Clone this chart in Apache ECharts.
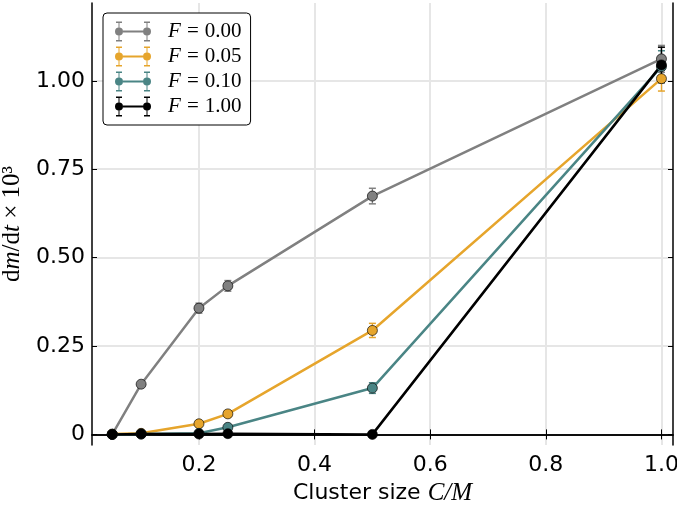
<!DOCTYPE html>
<html><head><meta charset="utf-8">
<script src="https://cdn.jsdelivr.net/npm/echarts@6/dist/echarts.min.js"></script>
<style>html,body{margin:0;padding:0;background:#fff}#c{width:677px;height:506px}</style>
</head><body><div id="c"></div>
<script>
// ---- data ----
const clusterSize = [0.05, 0.1, 0.2, 0.25, 0.5, 1.0];
const seriesNames = ['F=0.00', 'F=0.05', 'F=0.10', 'F=1.00'];
const rateF000 = [0.000, 0.142, 0.357, 0.420, 0.674, 1.062];
const errF000  = [0.002, 0.005, 0.014, 0.015, 0.022, 0.038];
const rateF005 = [0.001, 0.003, 0.030, 0.058, 0.294, 1.006];
const errF005  = [0.000, 0.001, 0.003, 0.004, 0.020, 0.035];
const rateF010 = [0.000, 0.001, 0.003, 0.020, 0.131, 1.040];
const errF010  = [0.000, 0.000, 0.001, 0.002, 0.015, 0.045];
const rateF100 = [0.000, 0.001, 0.001, 0.002, 0.000, 1.045];
const errF100  = [0.000, 0.000, 0.000, 0.000, 0.000, 0.050];
const xTicks = [0.2, 0.4, 0.6, 0.8, 1.0];
const yTicks = [0, 0.25, 0.5, 0.75, 1.0];

// ---- style ----
const colors = ['#808080', '#e6a52c', '#4a8585', '#000000'];
const allRates = [rateF000, rateF005, rateF010, rateF100];
const allErrs = [errF000, errF005, errF010, errF100];

const legendIcon = 'path://' +
  'M8 9H28V11H8Z' +
  'M3.5 1.5H4.5V6H3.5Z M3.5 14H4.5V18.5H3.5Z' +
  'M31.5 1.5H32.5V6H31.5Z M31.5 14H32.5V18.5H31.5Z' +
  'M1 0H7V1.5H1Z M1 18.5H7V20H1Z M29 0H35V1.5H29Z M29 18.5H35V20H29Z' +
  'M0 10A4 4 0 1 1 8 10A4 4 0 1 1 0 10Z' +
  'M28 10A4 4 0 1 1 36 10A4 4 0 1 1 28 10Z';

const series = [];
seriesNames.forEach((name, k) => {
  const col = colors[k];
  series.push({
    type: 'custom',
    name: name + ' err',
    xAxisIndex: 0, yAxisIndex: 0,
    silent: true,
    clip: true,
    data: clusterSize.map((x, i) => [x, allRates[k][i] - allErrs[k][i], allRates[k][i] + allErrs[k][i]]),
    encode: { x: 0, y: [1, 2] },
    renderItem: (params, api) => {
      const x = api.value(0), lo = api.value(1), hi = api.value(2);
      if (hi - lo < 0.004) return null;
      const p1 = api.coord([x, lo]), p2 = api.coord([x, hi]);
      const hw = 3.5;
      return { type: 'group', children: [
        { type: 'line', shape: { x1: p1[0], y1: p1[1], x2: p2[0], y2: p2[1] }, style: { stroke: col, lineWidth: 1.3 } },
        { type: 'line', shape: { x1: p1[0] - hw, y1: p1[1], x2: p1[0] + hw, y2: p1[1] }, style: { stroke: col, lineWidth: 1.5 } },
        { type: 'line', shape: { x1: p2[0] - hw, y1: p2[1], x2: p2[0] + hw, y2: p2[1] }, style: { stroke: col, lineWidth: 1.5 } }
      ]};
    }
  });
  series.push({
    type: 'line',
    name: name,
    xAxisIndex: 0, yAxisIndex: 0,
    data: clusterSize.map((x, i) => [x, allRates[k][i]]),
    symbol: 'circle',
    symbolSize: 10,
    showAllSymbol: true,
    lineStyle: { color: col, width: 2.5 },
    itemStyle: { color: col, borderColor: 'rgba(0,0,0,0.65)', borderWidth: 1 },
    emphasis: { disabled: true },
    silent: true
  });
});

const tickFont = { fontFamily: 'DejaVu Sans', fontSize: 22, color: '#000' };
const spine = { show: true, lineStyle: { color: '#000', width: 1.5 } };
const gridLine = { show: true, lineStyle: { color: '#e6e6e6', width: 2 } };
const xTick = { show: true, inside: true, length: 5, customValues: xTicks, lineStyle: { color: '#000', width: 1 } };
const yTick = { show: true, inside: true, length: 5, customValues: yTicks, lineStyle: { color: '#000', width: 1 } };

const option = {
  animation: false,
  backgroundColor: '#fff',
  grid: { left: 92, right: 4, top: 3, bottom: 61, containLabel: false, outerBoundsMode: 'none' },
  xAxis: [{
    type: 'value', min: 0.015, max: 1.02, position: 'bottom',
    axisLine: spine,
    axisTick: xTick,
    splitLine: gridLine,
    axisLabel: Object.assign({ margin: 9, customValues: xTicks, formatter: v => v.toFixed(1) }, tickFont),
    name: '{s|Cluster size }{m|C/M}',
    nameLocation: 'middle', nameGap: 36,
    nameTextStyle: { rich: {
      s: { fontFamily: 'DejaVu Sans', fontSize: 22, color: '#000' },
      m: { fontFamily: 'Liberation Serif', fontStyle: 'italic', fontSize: 25, color: '#000' }
    } }
  }, {
    type: 'value', min: 0.015, max: 1.02, position: 'top',
    axisLine: spine,
    axisTick: xTick,
    splitLine: { show: false }, axisLabel: { show: false }
  }],
  yAxis: [{
    type: 'value', min: -0.03, max: 1.22, position: 'left',
    axisLine: spine,
    axisTick: yTick,
    splitLine: gridLine,
    axisLabel: Object.assign({ margin: 7, customValues: yTicks, formatter: v => (Math.abs(v) < 1e-9 ? '0' : v.toFixed(2)) }, tickFont),
    name: '{r|d}{i|m}{r|/d}{i|t}{r| × 10³}',
    nameLocation: 'middle', nameGap: 58, nameRotate: 90,
    nameTextStyle: { rich: {
      r: { fontFamily: 'Liberation Serif', fontSize: 25, color: '#000' },
      i: { fontFamily: 'Liberation Serif', fontStyle: 'italic', fontSize: 25, color: '#000' }
    } }
  }, {
    type: 'value', min: -0.03, max: 1.22, position: 'right',
    axisLine: spine,
    axisTick: yTick,
    splitLine: { show: false }, axisLabel: { show: false }
  }],
  legend: {
    data: seriesNames,
    orient: 'vertical',
    left: 103, top: 13,
    icon: legendIcon,
    itemWidth: 36, itemHeight: 20, itemGap: 4,
    padding: [8, 9, 8, 12],
    backgroundColor: '#fff',
    borderColor: '#000', borderWidth: 1, borderRadius: 4,
    selectedMode: false,
    itemStyle: { borderWidth: 0 },
    formatter: name => '{i|F}{e|=}{n|' + name.split('=')[1] + '}',
    textStyle: {
      padding: [0, 0, 0, 12],
      rich: {
        i: { fontFamily: 'Liberation Serif', fontStyle: 'italic', fontSize: 21, color: '#000' },
        e: { fontFamily: 'Liberation Serif', fontSize: 21, color: '#000', width: 24, align: 'center' },
        n: { fontFamily: 'Liberation Serif', fontSize: 21, color: '#000' }
      }
    }
  },
  series: series
};
const chart = echarts.init(document.getElementById('c'), null, { renderer: 'canvas' });
chart.setOption(option);
</script>
</body></html>
